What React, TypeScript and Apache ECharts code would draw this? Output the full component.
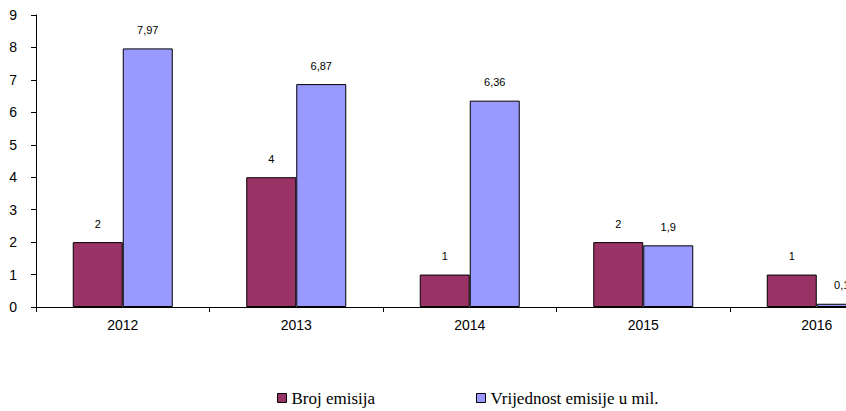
import React, { useEffect, useRef } from "react";
import * as echarts from "echarts";

const categories = ["2012", "2013", "2014", "2015", "2016"];
const brojEmisija = [2, 4, 1, 2, 1];
const vrijednostEmisije = [7.97, 6.87, 6.36, 1.9, 0.1];
const seriesNames = ["Broj emisija", "Vrijednost emisije u mil."];

export default function App() {
  const ref = useRef<HTMLDivElement>(null);
  useEffect(() => {
    if (!ref.current) return;
    const chart = echarts.init(ref.current, null, { renderer: "svg" });
    const fmt = (p: any) => String(p.value).replace(".", ",");
    const labelCfg = {
      show: true,
      position: "top",
      distance: 13,
      fontFamily: "Liberation Sans",
      fontSize: 11,
      color: "#000",
      formatter: fmt,
    };
    const legendText = {
      fontFamily: "Liberation Serif",
      fontSize: 17,
      color: "#000",
      lineHeight: 18,
    };
    const mkLegend = (name: string, left: number) => ({
      show: true,
      data: [name],
      left,
      top: 389,
      padding: 0,
      itemWidth: 9,
      itemHeight: 9,
      icon: "rect",
      itemStyle: { borderColor: "#000", borderWidth: 1 },
      textStyle: legendText,
    });
    chart.setOption({
      animation: false,
      backgroundColor: "#fff",
      textStyle: { fontFamily: "Liberation Sans" },
      grid: { left: 36, top: 15, bottom: 104, right: 0.5, containLabel: false },
      legend: [mkLegend(seriesNames[0], 277), mkLegend(seriesNames[1], 476)],
      xAxis: {
        type: "category",
        data: categories,
        boundaryGap: true,
        axisLine: { lineStyle: { color: "#000", width: 1 } },
        axisTick: { show: true, length: 5, lineStyle: { color: "#000" } },
        axisLabel: {
          color: "#000",
          fontFamily: "Liberation Sans",
          fontSize: 14,
          margin: 11,
        },
      },
      yAxis: {
        type: "value",
        min: 0,
        max: 9,
        interval: 1,
        splitLine: { show: false },
        axisLine: { show: true, lineStyle: { color: "#000", width: 1 } },
        axisTick: { show: true, length: 5, lineStyle: { color: "#000" } },
        axisLabel: {
          color: "#000",
          fontFamily: "Liberation Sans",
          fontSize: 14,
          margin: 19,
        },
      },
      series: [
        {
          name: seriesNames[0],
          type: "bar",
          data: brojEmisija,
          barWidth: 50,
          barGap: "0%",
          itemStyle: { color: "#993366", borderColor: "#000", borderWidth: 1 },
          label: labelCfg,
        },
        {
          name: seriesNames[1],
          type: "bar",
          data: vrijednostEmisije,
          barWidth: 50,
          barGap: "0%",
          itemStyle: { color: "#9999FF", borderColor: "#000", borderWidth: 1 },
          label: labelCfg,
        },
      ],
    });
    return () => chart.dispose();
  }, []);
  return (
    <div style={{ width: 846, height: 411, position: "absolute", left: 0, top: 0, overflow: "hidden" }}>
      <div ref={ref} style={{ width: 904, height: 411 }} />
    </div>
  );
}
